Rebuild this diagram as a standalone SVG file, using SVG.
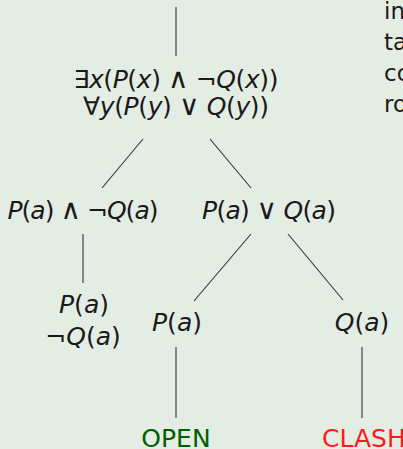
<svg xmlns="http://www.w3.org/2000/svg" width="403" height="449" viewBox="0 0 403 449">
<style>
text{font-family:"DejaVu Sans","Liberation Sans",sans-serif;font-size:25px;fill:#1a1a1a}
.m{text-anchor:middle}
.i{font-style:italic}
.op{font-size:28px}
.open{fill:#006000}
.clash{fill:#ff1a1a}
.side{font-size:23px}
#connectors line{stroke:#333;stroke-width:1.1}
</style>
<rect width="403" height="449" fill="#e4ede4"/>
<g id="connectors">
<line x1="176" y1="7" x2="176" y2="56"/>
<line x1="143" y1="139" x2="102" y2="188"/>
<line x1="210" y1="139" x2="251" y2="188"/>
<line x1="83" y1="234" x2="83" y2="283"/>
<line x1="251" y1="234" x2="194" y2="301"/>
<line x1="288" y1="234" x2="343" y2="300"/>
<line x1="176" y1="347" x2="176" y2="418"/>
<line x1="362" y1="347" x2="362" y2="418"/>
</g>
<g id="root">
<text class="m" x="176" y="88" textLength="205">∃<tspan class="i">x</tspan>(<tspan class="i">P</tspan>(<tspan class="i">x</tspan>) <tspan class="op">∧</tspan> ¬<tspan class="i">Q</tspan>(<tspan class="i">x</tspan>))</text>
<text class="m" x="176" y="115" textLength="186">∀<tspan class="i">y</tspan>(<tspan class="i">P</tspan>(<tspan class="i">y</tspan>) <tspan class="op">∨</tspan> <tspan class="i">Q</tspan>(<tspan class="i">y</tspan>))</text>
</g>
<g id="conj">
<text class="m" x="83" y="219" textLength="151"><tspan class="i">P</tspan>(<tspan class="i">a</tspan>) <tspan class="op">∧</tspan> ¬<tspan class="i">Q</tspan>(<tspan class="i">a</tspan>)</text>
</g>
<g id="disj">
<text class="m" x="269" y="219" textLength="134"><tspan class="i">P</tspan>(<tspan class="i">a</tspan>) <tspan class="op">∨</tspan> <tspan class="i">Q</tspan>(<tspan class="i">a</tspan>)</text>
</g>
<g id="conj-children">
<text class="m" x="84" y="313"><tspan class="i">P</tspan>(<tspan class="i">a</tspan>)</text>
<text class="m" x="83" y="345">¬<tspan class="i">Q</tspan>(<tspan class="i">a</tspan>)</text>
</g>
<g id="left-branch">
<text class="m" x="177" y="331"><tspan class="i">P</tspan>(<tspan class="i">a</tspan>)</text>
</g>
<g id="right-branch">
<text class="m" x="362" y="331"><tspan class="i">Q</tspan>(<tspan class="i">a</tspan>)</text>
</g>
<g id="open">
<text class="m open" x="176" y="447">OPEN</text>
</g>
<g id="clash">
<text class="clash" x="322" y="447">CLASH</text>
</g>
<g id="side-text">
<text class="side" x="384" y="19">in</text>
<text class="side" x="384" y="50">ta</text>
<text class="side" x="384" y="81">co</text>
<text class="side" x="384" y="112">ro</text>
</g>
</svg>
